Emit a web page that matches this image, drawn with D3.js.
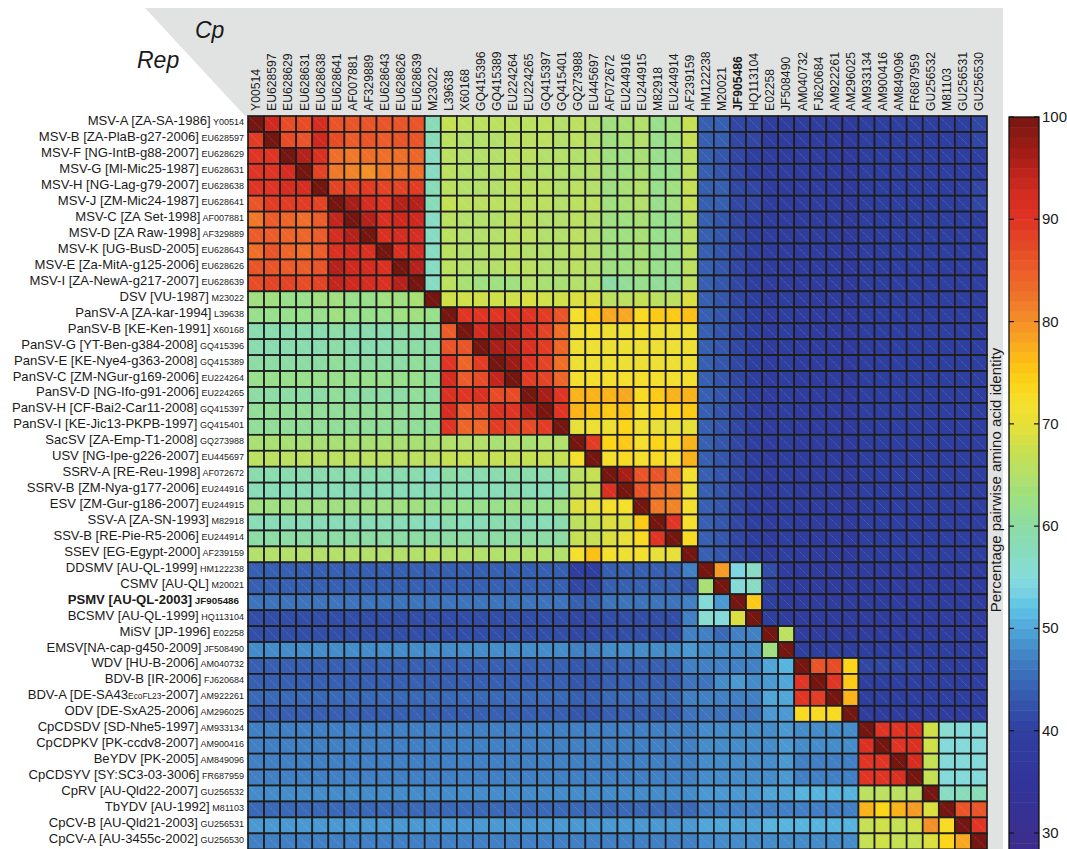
<!DOCTYPE html>
<html><head><meta charset="utf-8">
<script src="https://cdn.jsdelivr.net/npm/d3@7"></script>
<style>body{margin:0;background:#fff}svg{display:block;font-family:"Liberation Sans",Arial,sans-serif}</style>
</head><body><svg id="c" width="1067" height="849"></svg>
<script>
const rowNames = ["MSV-A [ZA-SA-1986]","MSV-B [ZA-PlaB-g27-2006]","MSV-F [NG-IntB-g88-2007]","MSV-G [Ml-Mic25-1987]","MSV-H [NG-Lag-g79-2007]","MSV-J [ZM-Mic24-1987]","MSV-C [ZA Set-1998]","MSV-D [ZA Raw-1998]","MSV-K [UG-BusD-2005]","MSV-E [Za-MitA-g125-2006]","MSV-I [ZA-NewA-g217-2007]","DSV [VU-1987]","PanSV-A [ZA-kar-1994]","PanSV-B [KE-Ken-1991]","PanSV-G [YT-Ben-g384-2008]","PanSV-E [KE-Nye4-g363-2008]","PanSV-C [ZM-NGur-g169-2006]","PanSV-D [NG-Ifo-g91-2006]","PanSV-H [CF-Bai2-Car11-2008]","PanSV-I [KE-Jic13-PKPB-1997]","SacSV [ZA-Emp-T1-2008]","USV [NG-Ipe-g226-2007]","SSRV-A [RE-Reu-1998]","SSRV-B [ZM-Nya-g177-2006]","ESV [ZM-Gur-g186-2007]","SSV-A [ZA-SN-1993]","SSV-B [RE-Pie-R5-2006]","SSEV [EG-Egypt-2000]","DDSMV [AU-QL-1999]","CSMV [AU-QL]","PSMV [AU-QL-2003]","BCSMV [AU-QL-1999]","MiSV [JP-1996]","EMSV[NA-cap-g450-2009]","WDV [HU-B-2006]","BDV-B [IR-2006]","BDV-A [DE-SA43{EcoFL23}-2007]","ODV [DE-SxA25-2006]","CpCDSDV [SD-Nhe5-1997]","CpCDPKV [PK-ccdv8-2007]","BeYDV [PK-2005]","CpCDSYV [SY:SC3-03-3006]","CpRV [AU-Qld22-2007]","TbYDV [AU-1992]","CpCV-B [AU-Qld21-2003]","CpCV-A [AU-3455c-2002]"];
const accessions = ["Y00514","EU628597","EU628629","EU628631","EU628638","EU628641","AF007881","AF329889","EU628643","EU628626","EU628639","M23022","L39638","X60168","GQ415396","GQ415389","EU224264","EU224265","GQ415397","GQ415401","GQ273988","EU445697","AF072672","EU244916","EU244915","M82918","EU244914","AF239159","HM122238","M20021","JF905486","HQ113104","E02258","JF508490","AM040732","FJ620684","AM922261","AM296025","AM933134","AM900416","AM849096","FR687959","GU256532","M81103","GU256531","GU256530"];
const boldAccession = "JF905486";
const colorTicks = [30,40,50,60,70,80,90,100];
const identity = [
[100,93,87,87,92,86,86,86,86,86,86,58,67,66,66,66,66,66,66,65,66,65,63,64,65,62,63,67,44,44,41,41,39,39,39,39,39,38,40,40,40,40,40,40,40,41],
[89,100,87,86,93,87,85,86,85,86,86,58,66,65,65,65,66,66,66,65,66,65,63,64,65,62,63,67,44,44,41,41,39,39,39,39,39,38,40,40,40,40,40,40,40,41],
[90,90,100,95,91,83,82,83,83,83,84,57,66,65,65,65,66,66,65,65,65,65,63,63,64,62,62,66,44,43,41,40,39,39,39,39,39,38,40,40,40,40,40,40,40,40],
[90,90,92,100,88,82,81,80,82,82,83,57,66,65,65,65,66,65,65,65,65,65,63,63,64,62,62,66,44,43,41,40,39,39,39,39,39,38,40,40,40,40,40,40,40,40],
[90,90,92,92,100,88,88,89,88,88,89,58,66,65,65,65,66,66,66,65,66,65,63,64,65,62,63,67,44,44,41,41,39,39,39,39,39,38,40,40,40,40,40,40,40,41],
[86,89,89,89,88,100,96,92,90,95,95,58,67,66,66,66,66,66,66,65,66,66,63,64,65,62,63,67,44,44,41,41,39,39,39,39,39,38,40,40,40,40,40,40,40,41],
[82,85,84,83,85,94,100,95,91,93,93,57,66,65,65,65,66,66,65,65,66,65,63,63,64,62,62,66,44,43,41,40,39,39,39,39,39,38,40,40,40,40,40,40,40,40],
[85,85,84,84,85,92,95,100,91,92,92,57,66,65,65,65,66,66,65,65,66,65,63,63,64,62,62,66,44,43,41,40,39,39,39,39,39,38,40,40,40,40,40,40,40,40],
[83,86,84,83,85,91,92,91,100,91,92,57,66,65,65,65,66,65,65,65,66,65,63,63,64,62,62,66,44,43,41,40,39,39,39,39,39,38,40,40,40,40,40,40,40,40],
[86,86,85,85,86,95,93,92,91,100,95,57,66,65,65,65,66,66,65,65,66,65,63,63,64,62,62,66,44,43,41,40,39,39,39,39,39,38,40,40,40,40,40,40,40,40],
[87,88,88,87,88,94,93,92,91,95,100,57,66,64,63,63,63,65,64,64,65,65,60,61,62,61,61,66,44,43,41,40,39,39,39,39,39,38,40,40,40,40,40,40,40,40],
[63,63,62,62,63,63,62,62,63,63,64,100,68,68,68,68,68,69,68,68,69,69,66,66,67,66,66,69,44,43,41,40,39,40,39,39,39,38,40,40,40,40,40,40,40,40],
[62,62,62,62,62,63,62,62,62,63,63,62,100,90,90,90,91,90,89,86,72,75,78,78,73,75,75,76,44,43,41,40,39,40,39,39,39,38,40,40,40,40,40,40,40,40],
[59,59,59,59,59,60,59,59,59,60,60,60,85,100,92,96,95,91,88,83,71,72,71,71,72,71,71,71,44,43,41,40,39,40,39,39,39,38,40,40,40,40,40,40,40,40],
[59,59,59,59,59,60,59,59,59,60,60,60,86,86,100,96,95,91,89,84,71,71,71,71,71,71,71,71,44,43,41,40,39,40,39,39,39,38,40,40,40,40,40,40,40,40],
[60,60,60,60,60,61,60,60,60,60,61,60,90,84,89,100,97,90,88,83,71,71,71,71,71,71,71,71,44,43,41,40,39,40,39,39,39,38,40,40,40,40,40,40,40,40],
[62,62,62,62,62,62,62,62,62,62,62,61,92,85,87,94,100,89,88,84,72,72,72,72,72,72,72,72,44,43,41,40,39,40,39,39,39,38,40,40,40,40,40,40,40,40],
[60,60,60,60,60,61,60,60,60,60,61,60,91,90,91,87,87,100,96,90,77,77,77,78,73,75,77,77,44,43,41,40,39,40,39,39,39,38,40,40,40,40,40,40,40,40],
[61,61,61,61,61,61,61,61,61,61,61,61,92,85,87,91,90,95,100,90,77,76,75,76,72,74,74,75,44,43,41,40,39,40,39,39,39,38,40,40,40,40,40,40,40,40],
[61,61,61,61,61,61,61,61,61,61,61,61,90,84,84,89,88,87,89,100,70,71,71,74,71,70,70,70,44,43,41,40,39,40,39,39,39,38,40,40,40,40,40,40,40,40],
[64,64,64,64,64,64,64,64,64,64,64,64,65,65,65,64,65,64,65,65,100,89,74,75,72,74,73,77,44,43,41,40,39,40,39,39,39,38,40,40,40,40,40,40,40,40],
[66,66,66,66,66,66,66,66,66,66,66,66,67,67,67,67,67,67,67,67,72,100,72,73,72,73,72,77,44,43,41,40,39,40,39,39,39,38,40,40,40,40,40,40,40,40],
[59,59,59,59,59,59,59,59,59,59,59,57,60,59,59,59,60,59,59,60,66,67,100,96,86,86,82,72,44,43,41,40,39,40,39,39,39,38,40,40,40,40,40,40,40,40],
[58,58,58,58,58,58,58,58,58,58,58,58,59,58,58,58,59,58,58,59,66,67,91,100,86,83,82,71,44,43,41,40,39,40,39,39,39,38,40,40,40,40,40,40,40,40],
[63,63,63,63,63,63,63,63,63,63,63,62,62,62,62,62,63,62,62,63,69,70,72,72,100,82,81,72,44,43,41,40,39,40,39,39,39,38,40,40,40,40,40,40,40,40],
[58,58,58,58,58,58,58,58,58,58,58,57,59,58,58,59,59,58,58,59,66,67,69,69,75,100,90,72,44,43,41,40,39,40,39,39,39,38,40,40,40,40,40,40,40,40],
[60,60,60,60,60,60,60,60,60,60,60,60,60,60,60,60,60,60,60,60,67,67,69,70,73,90,100,73,44,43,41,40,39,40,39,39,39,38,40,40,40,40,40,40,40,40],
[65,65,65,65,65,65,65,65,65,65,65,66,65,65,65,65,65,65,65,65,72,76,72,71,72,70,70,100,44,43,41,40,39,40,39,39,39,38,40,40,40,40,40,40,40,40],
[44,44,44,44,44,44,44,44,44,44,44,44,44,44,44,44,44,44,44,44,40,40,44,44,44,44,44,47,100,79,54,57,42,39,39,39,39,39,39,39,39,39,39,39,39,39],
[44,44,44,44,44,44,44,44,44,44,44,44,44,44,44,44,44,44,44,44,41,41,44,44,44,44,44,43,64,100,55,57,41,39,39,39,39,39,39,39,39,39,39,39,39,39],
[46,46,46,46,46,46,46,46,46,46,46,46,46,46,46,46,46,46,46,46,44,44,46,46,46,46,46,47,55,49,100,75,40,39,39,39,39,39,39,39,39,39,39,39,39,39],
[42,42,42,42,42,42,42,42,42,42,42,42,42,42,42,42,42,42,42,42,41,41,42,42,42,42,42,47,56,55,69,100,40,39,39,39,39,39,39,39,39,39,39,39,39,39],
[42,42,42,42,42,42,42,42,42,42,42,42,42,42,42,42,42,42,42,42,41,41,42,42,42,42,42,47,47,45,47,47,100,66,39,39,39,39,39,39,39,39,39,39,39,39],
[48,48,48,48,48,48,48,48,48,48,48,48,48,48,48,48,48,48,48,48,47,47,48,48,48,48,48,49,48,48,48,48,63,100,40,40,40,40,40,40,40,40,40,40,40,40],
[44,44,44,44,44,44,44,44,44,44,44,44,44,44,44,44,44,44,44,44,43,43,44,44,44,44,44,47,47,47,47,47,50,51,100,86,87,74,41,41,41,41,40,40,40,40],
[44,44,44,44,44,44,44,44,44,44,44,44,44,44,44,44,44,44,44,44,43,43,44,44,44,44,44,46,46,48,49,48,49,50,90,100,90,75,40,40,40,40,40,40,40,40],
[45,45,45,45,45,45,45,45,45,45,45,45,45,45,45,45,45,45,45,45,44,44,45,45,45,45,45,47,47,47,47,47,50,50,90,89,100,77,40,40,40,40,40,40,40,40],
[44,44,44,44,44,44,44,44,44,44,44,44,44,44,44,44,44,44,44,44,43,43,44,44,44,44,44,46,46,46,46,46,49,49,73,73,73,100,39,39,39,39,39,39,39,39],
[47,47,47,47,47,47,47,47,47,47,47,47,47,47,47,47,47,47,47,47,47,47,47,47,47,47,47,47,48,48,48,48,48,49,48,48,48,48,100,90,90,91,68,56,55,55],
[47,47,47,47,47,47,47,47,47,47,47,47,47,47,47,47,47,47,47,47,47,47,47,47,47,47,47,47,48,48,48,48,48,49,48,48,48,48,91,100,90,91,68,55,55,55],
[47,47,47,47,47,47,47,47,47,47,47,47,47,47,47,47,47,47,47,47,47,47,47,47,47,47,47,47,48,48,48,48,48,49,47,47,47,47,90,90,100,92,67,55,55,55],
[47,47,47,47,47,47,47,47,47,47,47,47,47,47,47,47,47,47,47,47,47,47,47,47,47,47,47,47,48,48,48,48,48,49,47,47,47,47,90,90,91,100,67,55,55,55],
[48,48,48,48,48,48,48,48,48,48,48,48,48,48,48,48,48,48,48,48,48,48,48,48,48,48,48,48,49,49,49,49,50,50,51,51,51,51,66,66,66,66,100,57,58,58],
[45,45,45,45,45,45,45,45,45,45,45,45,45,45,45,45,45,45,45,45,45,45,45,45,45,45,45,45,47,47,47,47,47,47,47,47,47,47,77,74,77,79,69,100,86,86],
[49,49,49,49,49,49,49,49,49,49,49,49,49,49,49,49,49,49,49,49,49,49,49,49,49,49,49,49,50,50,50,50,51,51,51,51,51,51,67,68,67,68,80,73,100,90],
[47,47,47,47,47,47,47,47,47,47,47,47,47,47,47,47,47,47,47,47,47,47,47,47,47,47,47,47,48,48,48,48,48,48,48,48,48,48,67,68,67,67,69,74,78,100]
];
const stopValues = [28,30,35,40,43,46,48,50,52,54,56,58,60,62,64,66,68,70,72,74,76,78,80,82,85,88,90,93,96,100];
const stopColors = ["#3c2c8c","#3a2f8f","#32349a","#2f3f9f","#3456ac","#3d74bd","#458ccb","#50a6d8","#5ec2e6","#7fd6e2","#88dcd0","#88dcb8","#8cdca4","#98e08c","#a8e074","#bce060","#d0e048","#e6e038","#f4e02c","#fcd418","#fcc014","#f8a820","#f49028","#f07828","#ec5c2a","#e44426","#e03424","#d02a20","#a81e18","#761610"];

const svg = d3.select("#c");
const color = d3.scaleLinear().domain(stopValues).range(stopColors).interpolate(d3.interpolateRgb).clamp(true);
const n = accessions.length;
const x = d3.scaleBand().domain(d3.range(n)).range([248, 987]);
const y = d3.scaleBand().domain(d3.range(n)).range([116, 849.3]);

// gray header
svg.append("polygon").attr("points","145,8 1003,8 1003,849 987,849 987,116 245,116").attr("fill","#e1e2e2");
svg.append("text").attr("x",195).attr("y",38).attr("font-size",23).attr("font-style","italic").attr("fill","#1a1a1a").text("Cp");
svg.append("text").attr("x",137).attr("y",68).attr("font-size",23).attr("font-style","italic").attr("fill","#1a1a1a").text("Rep");

// cells
const cells = [];
identity.forEach((row,i)=>row.forEach((v,j)=>cells.push({i,j,v})));
const g = svg.append("g");
g.selectAll("rect").data(cells).join("rect")
  .attr("x",d=>x(d.j)).attr("y",d=>y(d.i)).attr("width",x.bandwidth()).attr("height",y.bandwidth())
  .attr("fill",d=>color(d.v))
  .attr("stroke","#1e1e1e").attr("stroke-width",1.7);
g.selectAll("line").data(cells).join("line")
  .attr("x1",d=>x(d.j)+1.5).attr("y1",d=>y(d.i)+1.5).attr("x2",d=>x(d.j)+x.bandwidth()-1.5).attr("y2",d=>y(d.i)+y.bandwidth()-1.5)
  .attr("stroke","#ffffff").attr("stroke-opacity",0.35).attr("stroke-width",0.6).attr("stroke-dasharray","1,1");

// column labels
svg.append("g").selectAll("text").data(accessions).join("text")
  .attr("transform",(d,j)=>`translate(${x(j)+x.bandwidth()/2+4.3},111) rotate(-90)`)
  .attr("font-size",12.2).attr("fill","#1a1a1a")
  .attr("font-weight",d=>d===boldAccession?"bold":"normal")
  .text(d=>d);

// row labels
const rl = svg.append("g");
rowNames.forEach((name,i)=>{
  const isBold = accessions[i]===boldAccession;
  const t = rl.append("text").attr("x",isBold?239:244).attr("y",y(i)+y.bandwidth()/2+1.5)
    .attr("text-anchor","end").attr("fill","#1a1a1a").attr("font-size",13.1)
    .attr("font-weight",isBold?"bold":"normal");
  const parts = name.split(/(\{[^}]*\})/).filter(p=>p.length);
  parts.forEach(p=>{
    if(p.startsWith("{")) t.append("tspan").attr("font-size",8.3).text(p.slice(1,-1));
    else t.append("tspan").text(p);
  });
  t.append("tspan").attr("font-size",isBold?9.8:9).text(" "+accessions[i]);
});

// colorbar
const cb = d3.scaleLinear().domain([30,100]).range([833,117]);
const bands = d3.range(28,100);
const cbg = svg.append("g");
cbg.selectAll("rect").data(bands).join("rect")
  .attr("x",1009).attr("width",30).attr("y",d=>cb(d+1)).attr("height",d=>cb(d)-cb(d+1)+0.5)
  .attr("fill",d=>color(d+0.5));
cbg.append("rect").attr("x",1009).attr("y",117).attr("width",30).attr("height",760).attr("fill","none").attr("stroke","#111").attr("stroke-width",1.3);
colorTicks.forEach(t=>{
  cbg.append("line").attr("x1",1009).attr("x2",1014).attr("y1",cb(t)).attr("y2",cb(t)).attr("stroke","#111").attr("stroke-width",1.2);
  cbg.append("line").attr("x1",1034).attr("x2",1039).attr("y1",cb(t)).attr("y2",cb(t)).attr("stroke","#111").attr("stroke-width",1.2);
  cbg.append("text").attr("x",1042).attr("y",cb(t)+5).attr("font-size",15).attr("fill","#1a1a1a").text(t);
});
svg.append("text").attr("transform","translate(1001,480) rotate(-90)").attr("text-anchor","middle")
  .attr("font-size",15).attr("fill","#1a1a1a").text("Percentage pairwise amino acid identity");
</script></body></html>
